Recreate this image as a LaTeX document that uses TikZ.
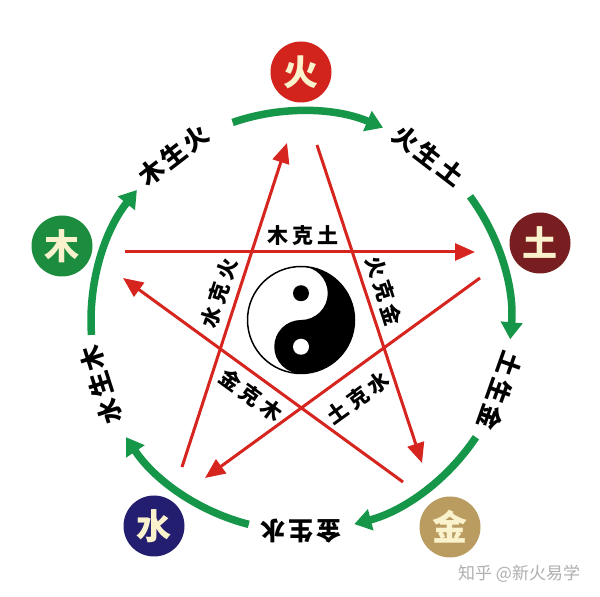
\documentclass[tikz,border=0pt]{standalone}
\usepackage{fontspec}
\newfontfamily\cjk{Noto Sans CJK SC}
\usetikzlibrary{arrows.meta}
\definecolor{redline}{RGB}{214,36,30}
\definecolor{shenggreen}{RGB}{22,150,72}
\definecolor{colhuo}{RGB}{210,36,28}
\definecolor{coltu}{RGB}{120,30,32}
\definecolor{coljin}{RGB}{186,155,96}
\definecolor{colshui}{RGB}{36,30,112}
\definecolor{colmu}{RGB}{28,140,62}
\definecolor{cream}{RGB}{250,242,204}
\definecolor{wmgray}{RGB}{175,175,175}
\newcommand\wxg{\hspace{3pt}}
\newcommand\wxk{\hspace{4.5pt}}
\tikzset{
  elem/.style={circle, minimum size=61pt, inner sep=0pt, text=cream,
    font=\cjk\bfseries\fontsize{35}{35}\selectfont},
  shengarc/.style={draw=shenggreen, line width=7.5pt, -{Triangle[length=17pt,width=21pt]}},
  kearrow/.style={draw=redline, line width=3pt, -{Triangle[length=20pt,width=17pt]}},
  kelab/.style={font=\cjk\bfseries\fontsize{21}{21}\selectfont, inner sep=0pt},
  shenglab/.style={font=\cjk\bfseries\fontsize{25}{25}\selectfont, inner sep=0pt},
  wm/.style={font=\cjk\fontsize{17}{17}\selectfont, text=wmgray, inner sep=0pt}
}
\begin{document}
\begin{tikzpicture}[x=1pt,y=1pt]
\useasboundingbox (0,0) rectangle (600,597);
\fill[white] (0,0) rectangle (600,597);
\coordinate (C) at (301,276);

% element circles
\node[elem, fill=colhuo]  (huo)  at (301,525) {火};
\node[elem, fill=coltu]   (tu)   at (540,354) {土};
\node[elem, fill=coljin]  (jin)  at (450,70)  {金};
\node[elem, fill=colshui] (shui) at (154,71)  {水};
\node[elem, fill=colmu]   (mu)   at (62,351)  {木};

% generating (sheng) arcs
\draw[shengarc] ([shift={(109:210)}]C)   arc[start angle=109,   end angle=67,    radius=210];
\draw[shengarc] ([shift={(36.4:210)}]C)  arc[start angle=36.4,  end angle=-5,    radius=210];
\draw[shengarc] ([shift={(-33.6:210)}]C) arc[start angle=-33.6, end angle=-75.3, radius=210];
\draw[shengarc] ([shift={(-104.4:210)}]C) arc[start angle=-104.4, end angle=-146.4, radius=210];
\draw[shengarc] ([shift={(183.8:210)}]C) arc[start angle=183.8, end angle=141.4, radius=210];

% sheng labels
\node[shenglab, rotate=37.6]   (l1) at ([shift={(127.6:209)}]C) {木\wxg 生\wxg 火};
\node[shenglab, rotate=-37.6]  (l2) at ([shift={(52.4:209)}]C)  {火\wxg 生\wxg 土};
\node[shenglab, rotate=-109.4] (l3) at ([shift={(-19.4:211)}]C) {土\wxg 生\wxg 金};
\node[shenglab, rotate=180]    (l4) at ([shift={(-90:210)}]C)   {金\wxg 生\wxg 水};
\node[shenglab, rotate=107.7]  (l5) at ([shift={(197.7:210)}]C) {水\wxg 生\wxg 木};

% controlling (ke) star
\coordinate (a1) at (125,345); \coordinate (b1) at (475,345);
\coordinate (a2) at (317,452); \coordinate (b2) at (422,134);
\coordinate (a3) at (480,319); \coordinate (b3) at (205,119);
\coordinate (a4) at (403,115); \coordinate (b4) at (123,319);
\coordinate (a5) at (182,130); \coordinate (b5) at (287,454);
\draw[kearrow] (a1) -- (b1);
\draw[kearrow] (a2) -- (b2);
\draw[kearrow] (a3) -- (b3);
\draw[kearrow] (a4) -- (b4);
\draw[kearrow] (a5) -- (b5);

% ke labels
\node[kelab]             (k1) at (303,361) {木\wxk 克\wxk 土};
\node[kelab, rotate=-72] (k2) at (384,306) {火\wxk 克\wxk 金};
\node[kelab, rotate=36]  (k3) at (358,199) {土\wxk 克\wxk 水};
\node[kelab, rotate=-36] (k4) at (251,202) {金\wxk 克\wxk 木};
\node[kelab, rotate=72]  (k5) at (219,304) {水\wxk 克\wxk 火};

% taiji
\fill[white] (301,277) circle[radius=53.5];
\fill[black] (301,330.5) arc[start angle=90, end angle=-90, radius=53.5]
   arc[start angle=-90, end angle=-270, radius=26.75]
   arc[start angle=-90, end angle=90, radius=26.75] -- cycle;
\fill[black] (301,303.75) circle[radius=8];
\fill[white] (301,250.25) circle[radius=8];
\draw[black, line width=1.5pt] (301,277) circle[radius=53.5];

% watermark
\node[wm, anchor=west] (wmk) at (458,23) {知乎 @新火易学};
\end{tikzpicture}
\end{document}
